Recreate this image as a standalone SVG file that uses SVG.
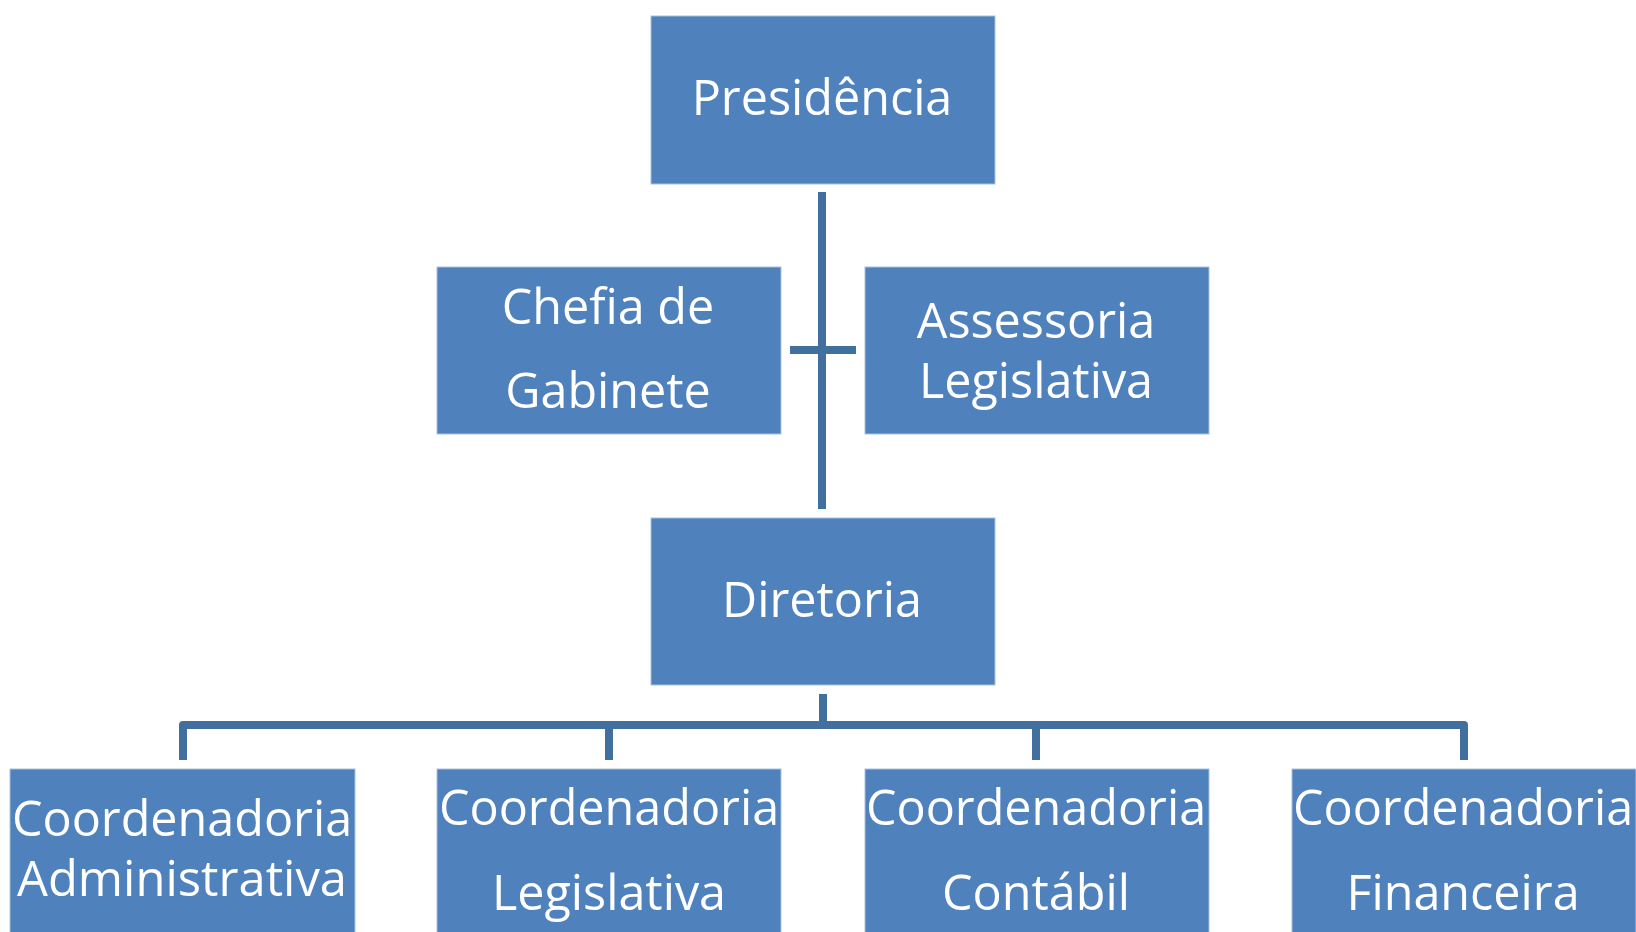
<svg xmlns="http://www.w3.org/2000/svg" width="1636" height="932" viewBox="0 0 1636 932">
<style>
.box{fill:#4f81bd;stroke:#a9c0df;stroke-width:1}
.t{font-family:"Open Sans","Noto Sans","DejaVu Sans",sans-serif;font-size:48.5px;fill:#ffffff;text-anchor:middle}
.c{fill:none;stroke:#41709f;stroke-width:8;stroke-linejoin:round}
</style>
<rect width="1636" height="932" fill="#ffffff"/>
<g id="connectors">
<line class="c" x1="822" y1="192" x2="822" y2="509"/>
<line class="c" x1="790" y1="350" x2="856" y2="350"/>
<line class="c" x1="823" y1="694" x2="823" y2="725"/>
<path class="c" d="M183,760 V725 H1464 V760"/>
<line class="c" x1="609" y1="725" x2="609" y2="760"/>
<line class="c" x1="1036" y1="725" x2="1036" y2="760"/>
</g>
<g id="presidencia">
<rect class="box" x="651" y="16" width="344" height="168"/>
<text class="t" x="822" y="115">Presidência</text>
</g>
<g id="chefia">
<rect class="box" x="437" y="267" width="344" height="167"/>
<text class="t" x="608" y="324">Chefia de</text>
<text class="t" x="608" y="408">Gabinete</text>
</g>
<g id="assessoria">
<rect class="box" x="865" y="267" width="344" height="167"/>
<text class="t" x="1036" y="338">Assessoria</text>
<text class="t" x="1036" y="398">Legislativa</text>
</g>
<g id="diretoria">
<rect class="box" x="651" y="518" width="344" height="167"/>
<text class="t" x="822" y="617">Diretoria</text>
</g>
<g id="coord-adm">
<rect class="box" x="10" y="769" width="345" height="170"/>
<text class="t" x="182" y="836">Coordenadoria</text>
<text class="t" x="182" y="896" textLength="330" lengthAdjust="spacingAndGlyphs">Administrativa</text>
</g>
<g id="coord-leg">
<rect class="box" x="437" y="769" width="344" height="170"/>
<text class="t" x="609" y="825">Coordenadoria</text>
<text class="t" x="609" y="910">Legislativa</text>
</g>
<g id="coord-cont">
<rect class="box" x="865" y="769" width="344" height="170"/>
<text class="t" x="1036" y="825">Coordenadoria</text>
<text class="t" x="1036" y="910">Contábil</text>
</g>
<g id="coord-fin">
<rect class="box" x="1292" y="769" width="344" height="170"/>
<text class="t" x="1463" y="825">Coordenadoria</text>
<text class="t" x="1463" y="910">Financeira</text>
</g>
</svg>
